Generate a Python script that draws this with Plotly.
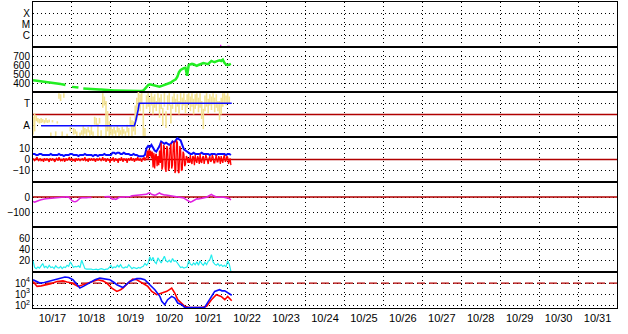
import plotly.graph_objects as go
from plotly.subplots import make_subplots
import pandas as pd

BASE = pd.Timestamp("2003-10-17 00:00")
X_RANGE = ["2003-10-17 00:00", "2003-11-01 00:00"]

# ---------------- data (hours from 10/17 00:00) ----------------
# X-ray flux (panel 1)
xr_h = [110, 115.6, 115.7, 115.8, 119.5, 120.0, 121.0, 121.5]
xr_v = [6e-8, 6e-8, 1.6e-7, 6e-8, 6e-8, 1.15e-7, 1.15e-7, 6e-8]

# Solar wind speed (panel 2), hourly
sw_v = [430, 428, 425, 423, 421, 418, 414, 411, 410, 408, 406, 404, 402, 400, 398, 395, 392, 389, 385, 381,
        378, None, None, None, 357, 355, 352, 351, 349, None, None, 340, 338, 336, 334, 333, 332, 333, 331, 330,
        329, 328, 327, 325, 323, 322, 322, 320, 321, 319, 318, 318, 317, 316, 317, 316, 315, 316, 314, 313,
        314, 312, 311, 312, 310, 311, 310, 312, 318, 335, 360, 378, 385, 380, 372, 368, 365, 362, 360, 366,
        372, 378, 383, 386, 392, 405, 420, 428, 440, 470, 520, 545, 560, 565, 570, 480, 600, 605, 612, 608,
        595, 590, 600, 606, 615, 622, 618, 612, 610, 630, 645, 638, 632, 640, 648, 652, 645, 660, 625, 605,
        598, 606, 612]

# IMF sector (panel 3): yellow streak ranges, hourly (None = no data)
ys_lo = [-1.8, -1.5, -0.6, -0.7, -0.8, -0.75, -0.7, -0.8, -0.7, -0.75, -0.7, -1.9, -0.7, None, -1.9, -0.8,
         1.4, 1.2, -1.9, 1.5, None, -1.9, None, -1.5, None, -1.8, -1.7, -1.9, None, -1.9, -1.8, -1.9, -1.7,
         -1.9, -1.6, -1.9, -1.8, -1.9, -0.9, -1.0, -1.9, -0.8, -1.9, 0.6, 0.8, -1.9, -1.5, -1.9, -1.8, -1.9,
         -1.7, -1.9, -1.6, -1.9, -1.8, -1.9, -1.7, -1.9, -1.6, -1.9, -1.0, -1.9, -1.5, -1.8, -0.5, 0.6, 0.3,
         0.9, -1.9, -2.0, 0.5, 0.7, 0.2, 0.8, 0.0, 0.6, 0.3, 0.9, -0.3, 0.5, -1.0, 0.7, -1.2, 0.4, 0.8, -0.8,
         0.5, 1.0, 0.2, 0.7, 0.0, 0.9, 0.4, 0.8, 0.1, 0.6, 0.9, 0.3, 0.7, 0.0, 0.5, 0.8, 0.2, 0.6, -0.4, -1.3,
         0.3, 0.7, 0.1, 0.8, 0.4, 0.9, 0.2, 0.6, 0.3, -0.5, 0.0, 0.7, 0.9, 0.8, 1.0, 0.9]
ys_hi = [-0.2, 0.1, -0.1, -0.3, -0.4, -0.3, -0.4, -0.5, -0.3, -0.5, -0.45, -1.6, -0.5, None, -1.5, -0.6,
         1.9, 1.8, -1.5, 1.9, None, -1.7, None, -1.1, None, -1.2, -1.3, -1.5, None, -1.6, -1.4, -1.0, -1.2,
         -1.3, -1.1, -1.4, -1.0, -1.5, -0.2, -0.3, -0.8, -0.3, -1.4, 1.9, 1.6, 1.2, 0.3, -0.6, -1.0, -1.3,
         -1.1, -1.4, -1.0, -1.2, -1.4, -1.1, -1.3, -1.5, -0.9, -1.2, -0.2, -0.5, -0.6, 0.8, 1.5, 2.0, 1.8,
         1.9, 1.0, -1.2, 1.7, 1.9, 1.5, 1.9, 1.6, 1.8, 1.2, 1.9, 1.5, 1.8, 0.6, 1.9, 0.3, 1.7, 1.9, 0.9,
         1.6, 1.9, 1.4, 1.8, 1.2, 1.9, 1.5, 1.9, 1.3, 1.8, 1.9, 1.6, 1.9, 1.4, 1.8, 1.9, 1.5, 1.9, 1.2, 0.5,
         1.7, 1.9, 1.4, 1.8, 1.6, 1.9, 1.5, 1.8, 1.2, 1.2, 1.5, 1.9, 1.9, 1.7, 1.9, 1.6]
sec_h = [5, 62.5, 63.3, 64, 64.8, 65.5, 122.5]
sec_v = [-1, -1, -0.6, -0.2, 0.4, 1, 1]

# IMF Bt (blue) hourly and Bz (red) half-hourly (panel 4)
bt_v = [5, 5, 4, 4, 5, 5, 4, 4, 4, 4, 4, 5, 4, 4, 4, 4, 5, 4, 4, 3, 4, 4, 4, 5, 5, 4, 4, 4, 3, 4, 4, 4, 5,
        4, 4, 4, 4, 3, 4, 4, 3, 4, 4, 4, 5, 4, 4, 4, 4, 6, 6, 5, 6, 6, 5, 5, 6, 5, 5, 5, 4, 4, 5, 4, 4, 3, 3,
        3, 3, 4, 10, 12, 11, 13, 10, 8, 7, 9, 12, 16, 15, 14, 15, 14, 13, 14, 16, 15, 17, 19, 18, 17, 13, 9,
        8, 7, 6, 5, 5, 6, 5, 5, 5, 5, 6, 5, 5, 5, 5, 4, 5, 5, 5, 4, 5, 5, 5, 5, 5, 4, 5, 5, 4]
bz_v = [1, 0, -1, 0, 1, 2, 0, -1, 0, 1, -1, 0,
        0, -2, 1, 0, -1, 1, 0, 0, -2, 1, 0, -1,
        1, 0, -1, -2, 0, 1, 0, -1, 2, 0, -1, 0,
        -1, 0, 1, -2, 0, 1, -1, 0, 0, 2, -1, 0,
        1, -1, 0, 0, -2, 1, 0, -1, 1, 0, -1, 0,
        0, 1, -1, 0, 2, -1, 0, 0, -2, 1, 0, -1,
        1, 0, -1, 1, 0, -2, 0, 1, -1, 0, 1, 0,
        -1, 0, 2, -1, 0, 1, -2, 0, 1, -1, 0, -3,
        1, -1, 0, 2, -2, 0, 1, -1, 0, -3, 1, 0,
        -1, 2, 0, -2, 1, 0, -1, 1, -3, 0, 1, -1,
        0, 2, -1, 0, 1, -2, 0, 1, -1, 2, 0, -1,
        1, 0, -2, 1, 0, 2, -1, 1,
        2, 8, 0, 9, 3, 8, 1, 7, -7, 6, -8, 4, 5, -6, 3, -5, 8, -3, 15, -9, -6, 13, 11, -8, -11, 12,
        9, -10, -7, 10, 14, -8, -5, 13, 16, -12, -10, 17, 15, -11, -12, 12, 9, -10, -9, 7, 5, -6, -4, 3,
        2, -3,
        1, -3, 4, -2, -4, 3, 2, -5, 4, -1, -3, 3, 1, -4, 5, -2, -3, 2, 3, -4, -1, 4, 2, -3, -4, 1,
        3, -2, -1, 4, 2, -3, -3, 1, 4, -2, -2, 3, 1, -4, 3, -1, -3, 2, 4, -2, -1, 3, 2, -4, -2, 1, -5]

# Dst (panel 5), hourly
dst_v = [-30, -35, -30, -28, -22, -18, -14, -13, -12, -11, -10, -8, -5, -3, -4, -3, -2, 0, 1, 0, -1, 2, 0,
         -15, -25, -30, -32, -28, -15, -8, -5, -6, -4, -5, -3, -2, -4, None, None, None, None, None, None,
         None, 2, 4, 5, 3, -8, -15, -12, -16, -10, -3, -2, -1, 0, -2, -1, 0, 4, 8, 9, 10, 8, 12, 11, 13, 15,
         14, 18, 25, 28, 18, 14, 12, 15, 22, 28, 20, 14, 13, 14, 12, 10, 8, 7, 6, 4, 2, -3, -6, -5, -7, -15,
         -22, -28, -35, -30, -25, -15, -12, -13, -11, -12, -10, -8, -2, 5, 12, 18, 10, 4, 0, -2, 1, -1, 0, -2,
         -1, -5, -10, -20]

# Activity index (panel 6), hourly
kp_v = [20, 8, 6, 9, 7, 11, 15, 8, 10, 7, 12, 8, 9, 6, 11, 8, 7, 10, 6, 9, 8, 12, 10, 18, 14, 8, 10, 9, 11,
        8, 21, 12, 6, 5, 5, 6, 5, 4, 5, 5, 4, 5, 6, 5, 4, 5, 5, 8, 12, 7, 9, 8, 12, 9, 13, 8, 7, 9, 8, 13, 9,
        6, 8, 7, 6, 8, 7, 9, 10, 15, 12, 16, 27, 20, 26, 18, 15, 25, 19, 16, 22, 28, 20, 18, 21, 17, 24, 19,
        20, 16, 10, 8, 9, 7, 8, 9, 20, 14, 12, 16, 13, 18, 12, 20, 15, 12, 17, 13, 19, 22, 31, 18, 14, 12,
        15, 11, 13, 10, 12, 9, 20, 14, 1]

# Electron flux (panel 7): hours and log10 flux
fb_h = [0, 2, 4.3, 7, 10.5, 14, 16.6, 19.7, 22, 24.6, 27, 28.9, 31, 33.2, 36, 38.2, 41.2, 44, 47.4, 50,
        51.7, 55.4, 57.5, 59.7, 62, 64, 66.5, 68.9, 72, 75.1, 78.2, 79.4, 81.2, 83, 85.5, 87.4, 89.2, 91.7,
        93.5, 96, 100, 103, 105.8, 108.9, 112, 115, 116.5, 118.2, 120, 122.5]
fb_log = [4.3, 4.15, 4.0, 4.05, 4.2, 4.35, 4.45, 4.55, 4.5, 4.3, 3.9, 3.55, 3.7, 3.9, 4.15, 4.3, 4.45,
          4.4, 4.3, 4.05, 3.85, 3.6, 3.85, 4.15, 4.3, 4.4, 4.4, 4.3, 3.85, 3.4, 2.8, 2.35, 2.05, 2.5, 2.8,
          2.65, 2.2, 2.05, 1.8, 1.78, 1.8, 1.78, 1.8, 2.5, 3.25, 3.4, 3.3, 3.3, 3.1, 2.9]
fr_h = [0, 2.5, 5, 8.6, 11, 14.8, 18.5, 21, 24, 27.7, 30.8, 33, 36.3, 40, 43, 45.5, 48.6, 51.7, 54, 55.4,
        58.5, 61.5, 64, 67.7, 70.8, 73.2, 76.3, 79.4, 82.5, 85.5, 87.4, 89.2, 91.7, 93.5, 96, 100, 104, 107,
        110, 113, 116, 118.2, 120, 122.5]
fr_log = [4.15, 3.7, 3.75, 3.85, 3.95, 4.15, 4.2, 4.1, 4.0, 3.7, 3.85, 3.95, 4.1, 4.3, 4.2, 4.0, 3.55,
          3.25, 3.4, 3.55, 4.0, 4.35, 4.3, 4.0, 3.7, 3.25, 2.95, 3.1, 3.25, 3.55, 3.1, 2.5, 2.2, 1.9, 1.8,
          1.78, 1.8, 1.9, 2.5, 2.95, 2.8, 2.5, 2.8, 2.4]

# ---------------- helpers ----------------
def T(hours):
    return [(BASE + pd.Timedelta(seconds=int(round(h * 3600)))).strftime("%Y-%m-%d %H:%M:%S") for h in hours]

hourly = list(range(len(sw_v)))
half_hourly = [i * 0.5 for i in range(len(bz_v))]

FONT = dict(family="Liberation Sans, Arial, sans-serif", size=11, color="black")
YFONT = dict(family="Liberation Sans, Arial, sans-serif", size=10, color="black")
DOT = "1px,3px"

fig = make_subplots(rows=7, cols=1, shared_xaxes=True, vertical_spacing=0,
                    row_heights=[45, 45, 45, 45, 45, 45, 36])

# reference lines, drawn first so data lies on top
for r in (3, 4, 5):
    fig.add_trace(go.Scatter(x=X_RANGE, y=[0, 0], mode="lines", hoverinfo="skip",
                             line=dict(color="#b00000", width=1.6)), r, 1)
fig.add_trace(go.Scatter(x=X_RANGE, y=[1e4, 1e4], mode="lines", hoverinfo="skip",
                         line=dict(color="#b00000", width=1.4, dash="8px,4px")), 7, 1)

# panel 1
fig.add_trace(go.Scatter(x=T(xr_h), y=xr_v, mode="lines", line=dict(color="#ee00ee", width=1.2)), 1, 1)
# panel 2
fig.add_trace(go.Scatter(x=T(hourly), y=sw_v, mode="lines", line=dict(color="#22ee22", width=2.5),
                         connectgaps=False), 2, 1)
# panel 3 yellow streaks
yx, yy = [], []
for h, lo, hi in zip(range(len(ys_lo)), ys_lo, ys_hi):
    if lo is None:
        continue
    t = T([h])[0]
    yx += [t, t, None]
    yy += [lo, hi, None]
fig.add_trace(go.Scatter(x=yx, y=yy, mode="lines", line=dict(color="#f3e291", width=1.6)), 3, 1)
fig.add_trace(go.Scatter(x=T(sec_h), y=sec_v, mode="lines", line=dict(color="#0a0aff", width=1.6)), 3, 1)
# panel 4
fig.add_trace(go.Scatter(x=T(hourly[:len(bt_v)]), y=bt_v, mode="lines", line=dict(color="#0a0aff", width=2)), 4, 1)
fig.add_trace(go.Scatter(x=T(half_hourly), y=bz_v, mode="lines", line=dict(color="#ff0000", width=1.3)), 4, 1)
# panel 5
fig.add_trace(go.Scatter(x=T(hourly[:len(dst_v)]), y=dst_v, mode="lines", line=dict(color="#e020e0", width=1.5),
                         connectgaps=False), 5, 1)
# panel 6
fig.add_trace(go.Scatter(x=T(hourly[:len(kp_v)]), y=kp_v, mode="lines", line=dict(color="#22eeee", width=1.2)), 6, 1)
# panel 7
fig.add_trace(go.Scatter(x=T(fr_h), y=[10 ** v for v in fr_log], mode="lines",
                         line=dict(color="#ff0000", width=1.6)), 7, 1)
fig.add_trace(go.Scatter(x=T(fb_h), y=[10 ** v for v in fb_log], mode="lines",
                         line=dict(color="#0a0aff", width=1.6)), 7, 1)

# axes
yspec = {
    1: dict(type="log", range=[-7, -3], tickvals=[1e-4, 1e-5, 1e-6], ticktext=["X", "M", "C"]),
    2: dict(range=[300, 800], tickvals=[400, 500, 600, 700]),
    3: dict(range=[-2, 2], tickvals=[1, -1], ticktext=["T", "A"]),
    4: dict(range=[-20, 20], tickvals=[-10, 0, 10]),
    5: dict(range=[-200, 100], tickvals=[-100, 0]),
    6: dict(range=[0, 80], tickvals=[20, 40, 60]),
    7: dict(type="log", range=[1.75, 5], tickvals=[1e2, 1e3, 1e4],
            ticktext=["10<sup>2</sup>", "10<sup>3</sup>", "10<sup>4</sup>"]),
}
for r, spec in yspec.items():
    fig.update_yaxes(row=r, col=1, showgrid=True, gridcolor="black", gridwidth=1, griddash=DOT,
                     zeroline=False, showline=True, mirror=True, linecolor="black", linewidth=1,
                     ticks="", tickfont=YFONT, fixedrange=True, **spec)

fig.update_xaxes(type="date", range=X_RANGE, dtick=86400000, tick0="2003-10-17", tickformat="%m/%d",
                 ticklabelmode="period", showgrid=True, gridcolor="black", gridwidth=1, griddash=DOT,
                 zeroline=False, showline=True, mirror=True, linecolor="black", linewidth=1, ticks="",
                 tickfont=FONT, fixedrange=True)

fig.update_layout(width=628, height=334, margin=dict(l=33, r=11, t=2, b=26),
                  paper_bgcolor="white", plot_bgcolor="white", showlegend=False)

fig.write_html("out.html")
